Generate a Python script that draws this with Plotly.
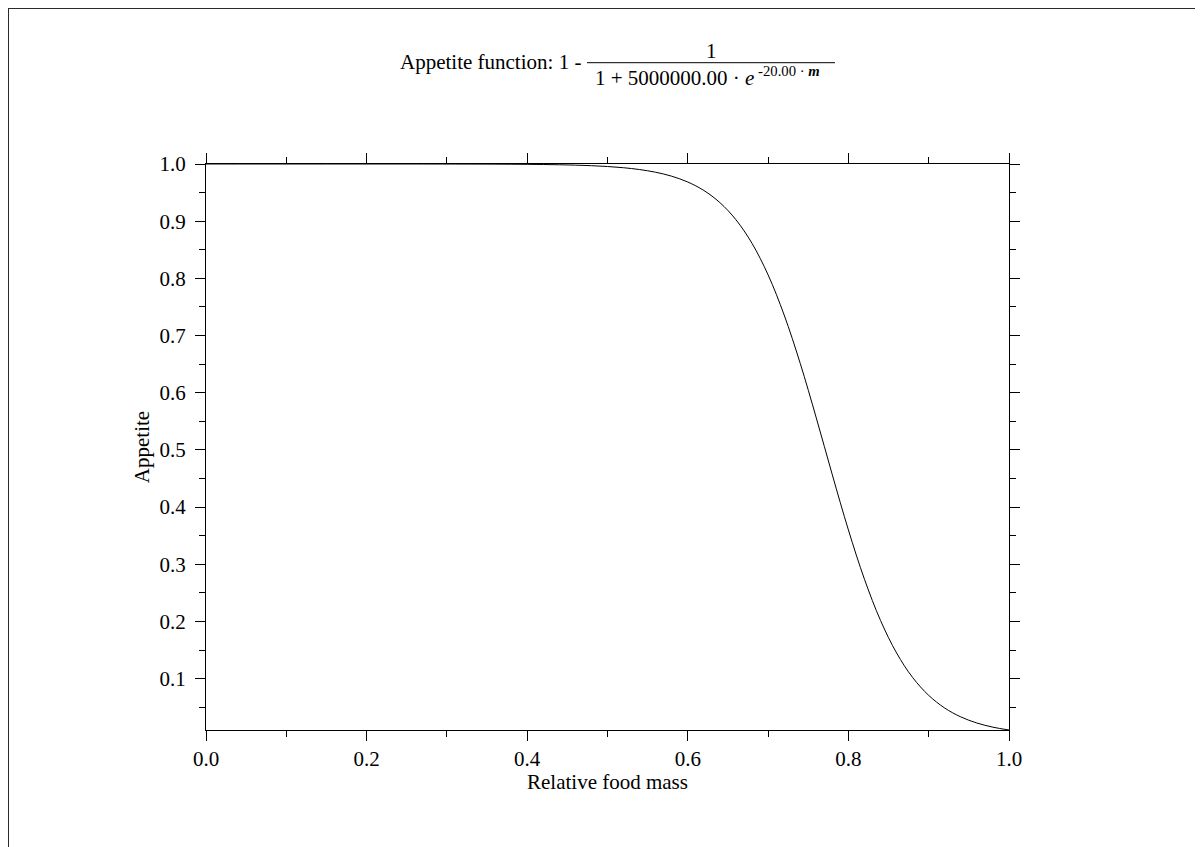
import plotly.graph_objects as go

# relative food mass (x) and appetite (y)
food_mass = [0.00, 0.05, 0.10, 0.15, 0.20, 0.25, 0.30, 0.32, 0.34, 0.36, 0.38,
             0.40, 0.42, 0.44, 0.46, 0.48, 0.50, 0.52, 0.54, 0.56, 0.58,
             0.60, 0.62, 0.64, 0.66, 0.68, 0.70, 0.72, 0.74, 0.76, 0.78,
             0.80, 0.82, 0.84, 0.86, 0.88, 0.90, 0.92, 0.94, 0.96, 0.98, 1.00]
appetite = [1.0000, 1.0000, 1.0000, 1.0000, 0.99999, 0.99998, 0.99992, 0.99988, 0.99982, 0.99973, 0.9996,
            0.9994, 0.99911, 0.99867, 0.99802, 0.99706, 0.99562, 0.99347, 0.9903, 0.98558, 0.97865,
            0.96847, 0.95369, 0.93245, 0.90247, 0.86116, 0.80612, 0.73594, 0.65136, 0.55601, 0.45636,
            0.36008, 0.27388, 0.20181, 0.14493, 0.10202, 0.07077, 0.04857, 0.03309, 0.02242, 0.01514, 0.0102]

x_ticks = [0.0, 0.2, 0.4, 0.6, 0.8, 1.0]
y_ticks = [0.1, 0.2, 0.3, 0.4, 0.5, 0.6, 0.7, 0.8, 0.9, 1.0]

title_left = "Appetite function: 1 - "
title_num = "1"
title_den = "1 + 5000000.00 · <i>e</i><sup> -20.00 · <b><i>m</i></b></sup>"
x_title = "Relative food mass"
y_title = "Appetite"

W, H = 1203, 847
PAGE = 8  # body margin of the html page
L, R, T, B = 198, 202, 156, 125
FONT = "Liberation Serif"
FS = 21


def xp(px):
    # page pixel -> paper x
    return (px - PAGE - L) / (W - L - R)


def yp(py):
    # page pixel -> paper y
    return (H - B - (py - PAGE)) / (H - B - T)


fig = go.Figure()
fig.add_trace(go.Scatter(x=food_mass, y=appetite, mode="lines",
                         line=dict(color="black", width=1, shape="spline"),
                         showlegend=False, hoverinfo="skip"))

axis_common = dict(showline=True, linecolor="black", linewidth=1, mirror="ticks",
                   ticks="outside", ticklen=10, tickwidth=1, tickcolor="black",
                   showgrid=False, zeroline=False, tickformat=".1f",
                   tickfont=dict(family=FONT, size=FS, color="black"))

fig.update_xaxes(range=[0, 1], tickvals=x_ticks, ticklabelstandoff=0,
                 minor=dict(dtick=0.1, ticks="outside", ticklen=6, tickcolor="black", showgrid=False),
                 **axis_common)
fig.update_yaxes(range=[0.0102, 1.0], tickvals=y_ticks, ticklabelstandoff=5,
                 minor=dict(dtick=0.05, tick0=0, ticks="outside", ticklen=6, tickcolor="black", showgrid=False),
                 title=dict(text=y_title, font=dict(family=FONT, size=FS, color="black"),
                            standoff=4),
                 **axis_common)

ann_font = dict(family=FONT, size=FS, color="black")

# x axis title, placed closer to the tick labels than standoff allows
fig.add_annotation(text=x_title, x=0.5, y=yp(782), xref="paper", yref="paper",
                   xanchor="center", yanchor="middle", showarrow=False, font=ann_font)

# title drawn as a stacked fraction
fig.add_annotation(text=title_left, x=xp(589), y=yp(62), xref="paper", yref="paper",
                   xanchor="right", yanchor="middle", showarrow=False, font=ann_font)
fig.add_annotation(text=title_num, x=xp(711), y=yp(65), xref="paper", yref="paper",
                   xanchor="center", yanchor="bottom", showarrow=False, font=ann_font)
fig.add_annotation(text=title_den, x=xp(707), y=yp(61), xref="paper", yref="paper",
                   xanchor="center", yanchor="top", showarrow=False, font=ann_font)
fig.add_shape(type="line", xref="paper", yref="paper", x0=xp(587), x1=xp(835),
              y0=yp(62.7), y1=yp(62.7), line=dict(color="black", width=1))

# page frame on left and top edges
fig.add_shape(type="line", xref="paper", yref="paper", x0=xp(PAGE + 0.5), x1=xp(PAGE + 0.5),
              y0=yp(H + 20), y1=yp(PAGE + 0.5), line=dict(color="#2b2b2b", width=1))
fig.add_shape(type="line", xref="paper", yref="paper", x0=xp(PAGE), x1=xp(W + 20),
              y0=yp(PAGE + 0.5), y1=yp(PAGE + 0.5), line=dict(color="#2b2b2b", width=1))

fig.update_layout(width=W, height=H, margin=dict(l=L, r=R, t=T, b=B),
                  plot_bgcolor="white", paper_bgcolor="white",
                  font=dict(family=FONT, size=FS, color="black"))

fig.write_html("out.html")
